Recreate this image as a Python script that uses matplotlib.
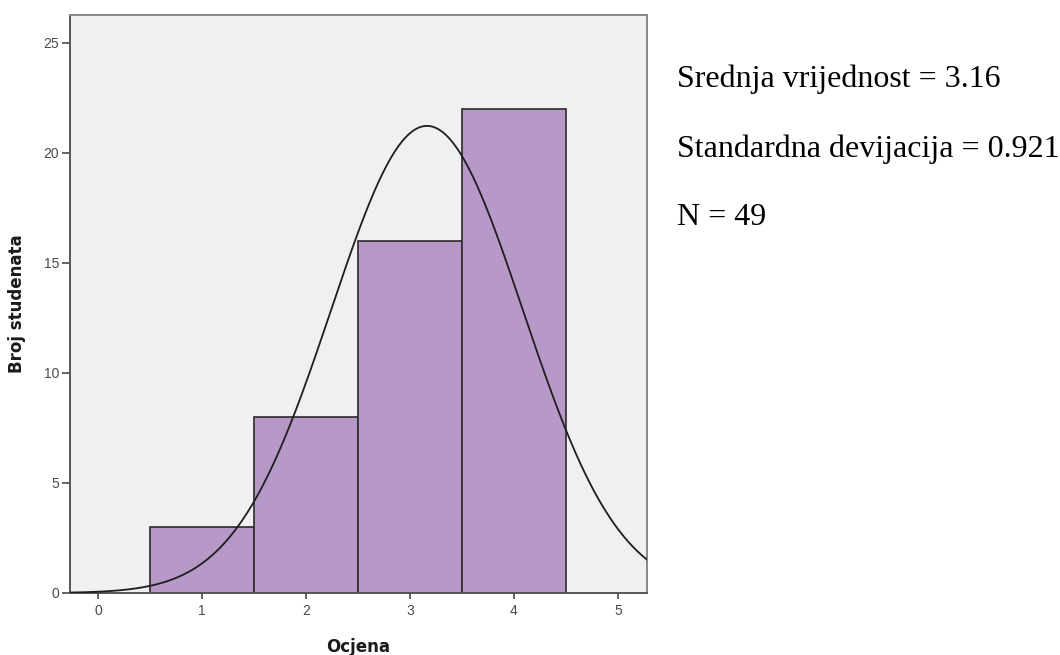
import numpy as np
import matplotlib
matplotlib.use("Agg")
import matplotlib.pyplot as plt

# Data
grades = [1, 2, 3, 4]
counts = [3, 8, 16, 22]
x_ticks = [0, 1, 2, 3, 4, 5]
y_ticks = [0, 5, 10, 15, 20, 25]
mean_label = "Srednja vrijednost = 3.16"
sd_label = "Standardna devijacija = 0.921"
n_label = "N = 49"

vals = np.repeat(grades, counts)
n = len(vals)
mu = vals.mean()
sd = vals.std(ddof=1)

fig = plt.figure(figsize=(10.6, 6.55), dpi=100)
ax = fig.add_axes([70/1060, 1-593/655, (647-70)/1060, (593-15)/655])
ax.set_facecolor("#F0F0F0")

ax.bar(grades, counts, width=1.0, color="#B799C8", edgecolor="#2b2b2b", linewidth=1.2, zorder=2)

xs = np.linspace(-0.3, 5.3, 400)
ys = n * 1.0 * np.exp(-0.5 * ((xs - mu) / sd) ** 2) / (sd * np.sqrt(2 * np.pi))
ax.plot(xs, ys, color="#1e1e1e", linewidth=1.3, zorder=3)

ax.set_xlim(-0.269, 5.279)
ax.set_ylim(0, 26.27)
ax.set_xticks(x_ticks)
ax.set_yticks(y_ticks)
ax.set_xticklabels([str(t) for t in x_ticks], fontfamily="Liberation Sans", fontsize=10, color="#4a4a4a")
ax.set_yticklabels([str(t) for t in y_ticks], fontfamily="Liberation Sans", fontsize=10, color="#4a4a4a")
ax.tick_params(axis="x", direction="out", length=4, width=1.2, color="#4a4a4a", pad=4)
ax.tick_params(axis="y", direction="out", length=6, width=1.2, color="#4a4a4a", pad=2)

for side in ["left", "bottom"]:
    ax.spines[side].set_color("#555555")
    ax.spines[side].set_linewidth(1.4)
for side in ["top", "right"]:
    ax.spines[side].set_color("#888888")
    ax.spines[side].set_linewidth(1.4)

fig.text(358.5/1060, 1-647/655, "Ocjena", ha="center", va="center", fontsize=12, fontweight="bold", color="#1a1a1a")
fig.text(17/1060, 1-304/655, "Broj studenata", ha="center", va="center", rotation=90, fontsize=12, fontweight="bold", color="#1a1a1a")

for label, yb in [(mean_label, 87), (sd_label, 157), (n_label, 225)]:
    fig.text(677/1060, 1-yb/655, label, ha="left", va="baseline", fontfamily="Liberation Serif", fontsize=23, color="#000000")

fig.savefig("out.png", dpi=100, facecolor="white")
